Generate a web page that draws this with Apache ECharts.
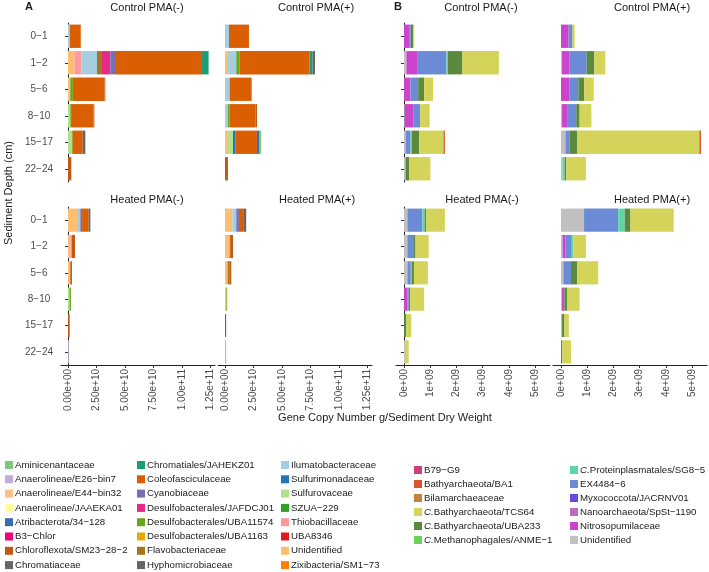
<!DOCTYPE html>
<html>
<head>
<meta charset="utf-8">
<script src="https://cdn.jsdelivr.net/npm/echarts@6/dist/echarts.min.js"></script>
<style>
  body { margin: 0; background: #fff; }
  #main { width: 709px; height: 572px; }
</style>
</head>
<body>
<div id="main"></div>
<script>
// depth categories (y axis)
var depths = ['0−1', '1−2', '5−6', '8−10', '15−17', '22−24'];

// x tick values
var ticksA = [0, 2.5e10, 5e10, 7.5e10, 1e11, 1.25e11];
var ticksB = [0, 1e9, 2e9, 3e9, 4e9, 5e9];
var unitA = 1e10;
var unitB = 1e9;

// legend order (A: bacteria, B: archaea etc.)
var taxaA = ['Aminicenantaceae', 'Anaerolineae/E26−bin7', 'Anaerolineae/E44−bin32', 'Anaerolineae/JAAEKA01',
    'Atribacterota/34−128', 'B3−Chlor', 'Chloroflexota/SM23−28−2', 'Chromatiaceae',
    'Chromatiales/JAHEKZ01', 'Coleofasciculaceae', 'Cyanobiaceae', 'Desulfobacterales/JAFDCJ01',
    'Desulfobacterales/UBA11574', 'Desulfobacterales/UBA1163', 'Flavobacteriaceae', 'Hyphomicrobiaceae',
    'Ilumatobacteraceae', 'Sulfurimonadaceae', 'Sulfurovaceae', 'SZUA−229',
    'Thiobacillaceae', 'UBA8346', 'Unidentified', 'Zixibacteria/SM1−73'];
var colorsA = ['#7fc97f', '#beaed4', '#fdc086', '#ffff99', '#386cb0', '#f0027f', '#bf5b17', '#666666',
    '#1b9e77', '#d95f02', '#7570b3', '#e7298a', '#66a61e', '#e6ab02', '#a6761d', '#666666',
    '#a6cee3', '#1f78b4', '#b2df8a', '#33a02c', '#fb9a99', '#e31a1c', '#fdbf6f', '#ff7f00'];

var taxaB = ['B79−G9', 'Bathyarchaeota/BA1', 'Bilamarchaeaceae', 'C.Bathyarchaeota/TCS64',
    'C.Bathyarchaeota/UBA233', 'C.Methanophagales/ANME−1', 'C.Proteinplasmatales/SG8−5', 'EX4484−6',
    'Myxococcota/JACRNV01', 'Nanoarchaeota/SpSt−1190', 'Nitrosopumilaceae', 'Unidentified '];
var colorsB = ['#c9427a', '#d9532f', '#c0843f', '#d4d45a', '#5c8a3c', '#6ad45a', '#5fd6a8', '#6b8bd6',
    '#6a48d8', '#bf6bbf', '#cc44cc', '#c0c0c0'];

// values per panel, per depth (0-1 .. 22-24); A in 1e10, B in 1e9
var ctrlMinusA = [
    ['Unidentified', [0, 0.56, 0.2, 0, 0, 0]],
    ['Thiobacillaceae', [0, 0.61, 0, 0, 0, 0]],
    ['Sulfurovaceae', [0, 0, 0, 0.2, 0.35, 0]],
    ['Ilumatobacteraceae', [0.15, 1.37, 0, 0, 0, 0]],
    ['Flavobacteriaceae', [0, 0.44, 0, 0, 0, 0]],
    ['Desulfobacterales/UBA11574', [0, 0, 0.23, 0.15, 0.06, 0]],
    ['Desulfobacterales/JAFDCJ01', [0, 0.73, 0, 0, 0, 0]],
    ['Cyanobiaceae', [0, 0.5, 0, 0, 0, 0]],
    ['Coleofasciculaceae', [0.97, 7.54, 2.78, 1.9, 0.88, 0]],
    ['Chromatiales/JAHEKZ01', [0, 0.58, 0, 0, 0, 0]],
    ['Chromatiaceae', [0, 0, 0, 0, 0.23, 0]],
    ['Chloroflexota/SM23−28−2', [0, 0, 0.06, 0.06, 0, 0.29]]
];
var ctrlPlusA = [
    ['Unidentified', [0, 0.26, 0, 0, 0.26, 0]],
    ['Sulfurovaceae', [0, 0, 0, 0, 0.44, 0]],
    ['Sulfurimonadaceae', [0, 0, 0, 0, 0.2, 0]],
    ['Ilumatobacteraceae', [0.35, 0.73, 0.41, 0.26, 0, 0]],
    ['Desulfobacterales/UBA11574', [0, 0.29, 0, 0.15, 0, 0]],
    ['Coleofasciculaceae', [1.75, 6.14, 1.93, 2.28, 1.9, 0]],
    ['Chromatiales/JAHEKZ01', [0, 0.25, 0, 0, 0, 0]],
    ['Chromatiaceae', [0, 0.22, 0, 0, 0, 0]],
    ['Chloroflexota/SM23−28−2', [0, 0, 0, 0.12, 0, 0.26]],
    ['Atribacterota/34−128', [0, 0, 0, 0, 0.18, 0]],
    ['Aminicenantaceae', [0, 0, 0, 0, 0.2, 0]]
];
var heatMinusA = [
    ['Unidentified', [0.88, 0.2, 0.2, 0, 0, 0]],
    ['Thiobacillaceae', [0, 0.12, 0, 0, 0, 0]],
    ['Sulfurovaceae', [0, 0, 0, 0.1, 0, 0]],
    ['Ilumatobacteraceae', [0.2, 0, 0, 0, 0, 0]],
    ['Desulfobacterales/UBA1163', [0, 0, 0, 0.08, 0, 0]],
    ['Desulfobacterales/UBA11574', [0, 0, 0, 0.08, 0, 0]],
    ['Cyanobiaceae', [0.15, 0, 0, 0, 0, 0]],
    ['Coleofasciculaceae', [0.58, 0, 0, 0, 0, 0]],
    ['Chromatiaceae', [0.15, 0, 0, 0, 0, 0]],
    ['Chloroflexota/SM23−28−2', [0, 0.3, 0.15, 0, 0.15, 0]],
    ['Anaerolineae/E26−bin7', [0, 0, 0, 0, 0, 0.08]]
];
var heatPlusA = [
    ['Unidentified', [0.64, 0.35, 0.23, 0, 0, 0]],
    ['Thiobacillaceae', [0, 0.1, 0, 0, 0, 0]],
    ['Sulfurovaceae', [0, 0, 0, 0.07, 0, 0]],
    ['Ilumatobacteraceae', [0.35, 0, 0, 0, 0, 0]],
    ['Flavobacteriaceae', [0, 0, 0.15, 0, 0, 0]],
    ['Desulfobacterales/UBA1163', [0, 0, 0, 0.06, 0, 0]],
    ['Desulfobacterales/UBA11574', [0, 0, 0, 0.06, 0, 0]],
    ['Cyanobiaceae', [0.23, 0, 0, 0, 0, 0]],
    ['Coleofasciculaceae', [0.44, 0, 0, 0, 0, 0]],
    ['Chromatiaceae', [0.2, 0, 0, 0, 0.1, 0]],
    ['Chloroflexota/SM23−28−2', [0, 0.25, 0.17, 0, 0, 0]],
    ['Anaerolineae/E26−bin7', [0, 0, 0, 0, 0, 0.1]]
];
var ctrlMinusB = [
    ['Unidentified ', [0, 0.09, 0, 0.03, 0.06, 0.06]],
    ['Nitrosopumilaceae', [0.22, 0.41, 0.25, 0.32, 0, 0]],
    ['EX4484−6', [0.04, 1.12, 0.29, 0.23, 0.19, 0]],
    ['C.Proteinplasmatales/SG8−5', [0, 0.05, 0, 0, 0.05, 0]],
    ['C.Bathyarchaeota/UBA233', [0.09, 0.56, 0.23, 0.04, 0.28, 0.14]],
    ['C.Bathyarchaeota/TCS64', [0.04, 1.39, 0.34, 0.36, 0.93, 0.81]],
    ['Bathyarchaeota/BA1', [0, 0, 0, 0, 0.05, 0]]
];
var ctrlPlusB = [
    ['Unidentified ', [0, 0.04, 0, 0.04, 0.17, 0.06]],
    ['Nitrosopumilaceae', [0.29, 0.29, 0.33, 0.22, 0, 0]],
    ['EX4484−6', [0.1, 0.65, 0.33, 0.32, 0.15, 0]],
    ['C.Proteinplasmatales/SG8−5', [0, 0, 0, 0, 0, 0.08]],
    ['C.Bathyarchaeota/UBA233', [0.05, 0.29, 0.23, 0.13, 0.29, 0.06]],
    ['C.Bathyarchaeota/TCS64', [0.08, 0.42, 0.36, 0.45, 4.67, 0.75]],
    ['Bathyarchaeota/BA1', [0, 0, 0, 0, 0.06, 0]]
];
var heatMinusB = [
    ['Unidentified ', [0.13, 0.13, 0.13, 0, 0, 0.04]],
    ['Nitrosopumilaceae', [0, 0, 0, 0.13, 0, 0]],
    ['EX4484−6', [0.57, 0.22, 0.13, 0.05, 0, 0]],
    ['C.Proteinplasmatales/SG8−5', [0.09, 0, 0.03, 0, 0, 0]],
    ['C.Bathyarchaeota/UBA233', [0.06, 0.09, 0.09, 0.06, 0.09, 0]],
    ['C.Bathyarchaeota/TCS64', [0.71, 0.5, 0.53, 0.53, 0.19, 0.14]]
];
var heatPlusB = [
    ['Unidentified ', [0.88, 0.06, 0.09, 0.04, 0.04, 0]],
    ['Nitrosopumilaceae', [0, 0.1, 0, 0.09, 0, 0]],
    ['EX4484−6', [1.3, 0.25, 0.29, 0, 0, 0]],
    ['C.Proteinplasmatales/SG8−5', [0.25, 0.06, 0, 0, 0, 0]],
    ['C.Bathyarchaeota/UBA233', [0.22, 0, 0.24, 0.1, 0.09, 0.05]],
    ['C.Bathyarchaeota/TCS64', [1.65, 0.48, 0.8, 0.48, 0.17, 0.33]]
];

var FONT = '"Liberation Sans", Arial, sans-serif';
var myChart = echarts.init(document.getElementById('main'));

// panel layout: [left, top, width, height]
var panels = [
    {data: ctrlMinusA, group: 'A', box: [61, 23, 154, 159], yLab: true, yLine: true, xAxis: false},
    {data: ctrlPlusA, group: 'A', box: [218, 23, 154, 159], yLab: false, yLine: false, xAxis: false},
    {data: heatMinusA, group: 'A', box: [61, 207, 154, 158], yLab: true, yLine: true, xAxis: true},
    {data: heatPlusA, group: 'A', box: [218, 207, 154, 158], yLab: false, yLine: false, xAxis: true},
    {data: ctrlMinusB, group: 'B', box: [396, 23, 154, 159], yLab: false, yLine: true, xAxis: false},
    {data: ctrlPlusB, group: 'B', box: [553, 23, 154, 159], yLab: false, yLine: false, xAxis: false},
    {data: heatMinusB, group: 'B', box: [396, 207, 154, 158], yLab: false, yLine: true, xAxis: true},
    {data: heatPlusB, group: 'B', box: [553, 207, 154, 158], yLab: false, yLine: false, xAxis: true}
];

function expo(v, d) {
    var s = v.toExponential(d).split('e');
    var sign = s[1].charAt(0);
    var num = s[1].slice(1);
    if (num.length < 2) num = '0' + num;
    return s[0] + 'e' + sign + num;
}

var grids = [], xAxes = [], yAxes = [], series = [];
var used = {};
panels.forEach(function (p, i) {
    var isA = p.group === 'A';
    grids.push({left: p.box[0], top: p.box[1], width: p.box[2], height: p.box[3]});
    xAxes.push({
        type: 'value', gridIndex: i,
        min: isA ? -0.614e10 : -0.305e9,
        max: isA ? 12.89e10 : 5.57e9,
        splitLine: {show: false},
        axisLine: {show: p.xAxis, lineStyle: {color: '#222', width: 1}},
        axisTick: {show: p.xAxis, length: 3, lineStyle: {color: '#333'},
            customValues: isA ? ticksA : ticksB},
        axisLabel: {
            show: p.xAxis, rotate: 90, margin: 4, fontSize: 10, fontFamily: FONT, color: '#4d4d4d',
            customValues: isA ? ticksA : ticksB,
            formatter: function (v) { return expo(v, isA ? 2 : 0); }
        }
    });
    yAxes.push({
        type: 'category', gridIndex: i, data: depths, inverse: true,
        axisLine: {show: p.yLine, lineStyle: {color: '#222', width: 1}},
        axisTick: {show: p.yLine, length: 3, alignWithLabel: true, lineStyle: {color: '#333'}},
        axisLabel: {show: p.yLab, align: 'center', margin: 22, fontSize: 10, fontFamily: FONT, color: '#4d4d4d'},
        splitLine: {show: false}
    });
    var taxa = isA ? taxaA : taxaB;
    var colors = isA ? colorsA : colorsB;
    var unit = isA ? unitA : unitB;
    // stack in reverse legend order so first legend item ends up on the right
    for (var t = taxa.length - 1; t >= 0; t--) {
        var row = null;
        for (var k = 0; k < p.data.length; k++) {
            if (p.data[k][0] === taxa[t]) row = p.data[k];
        }
        if (!row) continue;
        used[taxa[t]] = true;
        series.push({
            type: 'bar', name: taxa[t], stack: 'p' + i,
            xAxisIndex: i, yAxisIndex: i,
            barWidth: '88%',
            itemStyle: {color: colors[t]},
            data: row[1].map(function (v) { return v * unit; })
        });
    }
});

// empty series so every legend entry is drawn
function addEmpty(taxa, colors, idx) {
    taxa.forEach(function (name, t) {
        if (used[name]) return;
        series.push({
            type: 'bar', name: name, stack: 'p' + idx,
            xAxisIndex: idx, yAxisIndex: idx, barWidth: '88%',
            itemStyle: {color: colors[t]}, data: []
        });
    });
}
addEmpty(taxaA, colorsA, 0);
addEmpty(taxaB, colorsB, 4);

function legendCol(names, left, top, gap) {
    return {
        data: names, orient: 'vertical', left: left, top: top,
        itemWidth: 8, itemHeight: 8, itemGap: gap, icon: 'rect',
        selectedMode: false, padding: 0,
        textStyle: {
            fontSize: 9.7, fontFamily: FONT, color: '#1a1a1a', lineHeight: 12, padding: [0, 0, 0, -3],
            rich: {i: {fontStyle: 'italic', fontSize: 9.7, fontFamily: FONT, color: '#1a1a1a'}}
        },
        formatter: function (name) {
            if (name.indexOf('C.') === 0) return '{i|C.}' + name.slice(2);
            return name;
        }
    };
}

var legends = [
    legendCol(taxaA.slice(0, 8), 5, 459, 2.3),
    legendCol(taxaA.slice(8, 16), 137, 459, 2.3),
    legendCol(taxaA.slice(16, 24), 281, 459, 2.3),
    legendCol(taxaB.slice(0, 6), 414, 464, 2),
    legendCol(taxaB.slice(6, 12), 570, 464, 2)
];

function txt(s, x, y, size, weight, rot) {
    return {
        type: 'text', x: x, y: y, rotation: rot || 0, silent: true,
        style: {text: s, fill: '#1a1a1a', font: (weight || 'normal') + ' ' + size + 'px ' + FONT,
            textAlign: 'center', textVerticalAlign: 'middle'}
    };
}

option = {
    animation: false,
    backgroundColor: '#ffffff',
    grid: grids,
    xAxis: xAxes,
    yAxis: yAxes,
    legend: legends,
    series: series,
    graphic: [
        txt('A', 29, 7, 11, 'bold'),
        txt('B', 398, 7, 11, 'bold'),
        txt('Control PMA(-)', 147, 8, 11),
        txt('Control PMA(+)', 316, 8, 11),
        txt('Control PMA(-)', 481, 8, 11),
        txt('Control PMA(+)', 652, 8, 11),
        txt('Heated PMA(-)', 147, 200, 11),
        txt('Heated PMA(+)', 317, 200, 11),
        txt('Heated PMA(-)', 482, 200, 11),
        txt('Heated PMA(+)', 652, 200, 11),
        txt('Sediment Depth (cm)', 9, 193, 11, 'normal', Math.PI / 2),
        txt('Gene Copy Number g/Sediment Dry Weight', 385, 418, 11)
    ]
};
myChart.setOption(option);
</script>
</body>
</html>
